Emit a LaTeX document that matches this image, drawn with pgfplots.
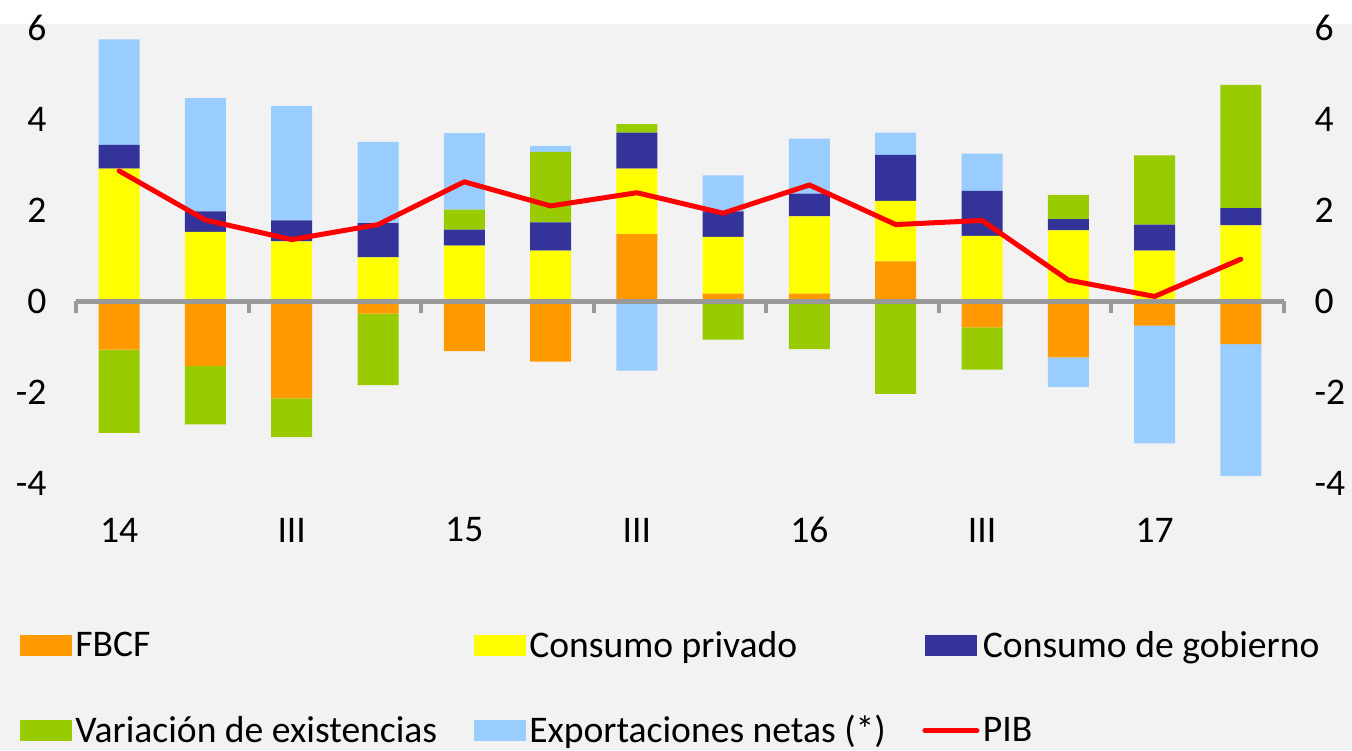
\documentclass[border=0pt]{standalone}
\usepackage{fontspec}
\setmainfont{Carlito}
\usepackage{pgfplots}
\usepackage{pgfplotstable}
\pgfplotsset{compat=1.18}
\definecolor{cFBCF}{HTML}{FF9900}
\definecolor{cCP}{HTML}{FFFF00}
\definecolor{cCG}{HTML}{333399}
\definecolor{cVE}{HTML}{99CC00}
\definecolor{cEN}{HTML}{99CCFF}
\definecolor{cPIB}{HTML}{FF0000}
\definecolor{bgc}{HTML}{F2F2F2}
\definecolor{axgray}{HTML}{999999}

\pgfplotstableread{
x FBCF CP CG VE EN PIB
0 -1.07 2.91 0.52 -1.83 2.32 2.86
1 -1.43 1.52 0.45 -1.28 2.49 1.78
2 -2.14 1.31 0.46 -0.85 2.52 1.35
3 -0.28 0.96 0.75 -1.57 1.79 1.68
4 -1.10 1.22 0.35 0.44 1.68 2.62
5 -1.33 1.11 0.62 1.55 0.13 2.09
6 1.47 1.44 0.79 0.19 -1.53 2.38
7 0.16 1.25 0.56 -0.85 0.79 1.93
8 0.16 1.70 0.50 -1.06 1.21 2.55
9 0.87 1.33 1.01 -2.04 0.49 1.68
10 -0.58 1.43 0.99 -0.93 0.82 1.77
11 -1.24 1.55 0.25 0.53 -0.65 0.46
12 -0.54 1.11 0.57 1.52 -2.59 0.10
13 -0.95 1.66 0.38 2.71 -2.90 0.92
}\datatable

\pgfplotsset{
  base/.style={
    scale only axis, width=604pt, height=227.5pt,
    xmin=-0.5, xmax=13.5, ymin=-4, ymax=6,
    ytick={-4,-2,0,2,4,6},
    yticklabels={-4,-2,0,2,4,6},
    every tick label/.append style={font=\fontsize{18.8}{22}\selectfont},
  },
  barlegend/.style={legend image code/.code={\fill[##1] (0pt,-5.25pt) rectangle (26pt,5.25pt);}},
}

\begin{document}
\begin{tikzpicture}
\fill[white] (-38pt,-133.5pt) rectangle (638pt,241.5pt);
\fill[bgc] (-38pt,-133.5pt) rectangle (638pt,229.5pt);

% negative parts
\begin{axis}[base, ybar stacked, bar width=20.5pt,
  hide x axis, axis y line*=right, y axis line style={draw=none},
  ytick style={draw=none}, yticklabel style={xshift=11.8pt}]
\addplot[fill=cFBCF, draw=none] table[x=x, y expr={min(\thisrow{FBCF},0)}] {\datatable};
\addplot[fill=cCP, draw=none] table[x=x, y expr={min(\thisrow{CP},0)}] {\datatable};
\addplot[fill=cCG, draw=none] table[x=x, y expr={min(\thisrow{CG},0)}] {\datatable};
\addplot[fill=cVE, draw=none] table[x=x, y expr={min(\thisrow{VE},0)}] {\datatable};
\addplot[fill=cEN, draw=none] table[x=x, y expr={min(\thisrow{EN},0)}] {\datatable};
\end{axis}

% positive parts + legend
\begin{axis}[base, ybar stacked, bar width=20.5pt, hide axis,
  legend columns=3,
  legend style={draw=none, fill=none, at={(-0.0464,-0.317)}, anchor=north west,
    inner sep=0pt, outer sep=0pt, column sep=0pt, row sep=23.5pt,
    nodes={inner xsep=1.75pt},
    /tikz/every even column/.append style={column sep=16.5pt},
    font=\fontsize{18.8}{22}\selectfont, legend cell align=left}]
\addplot[fill=cFBCF, draw=none, barlegend] table[x=x, y expr={max(\thisrow{FBCF},0)}] {\datatable};
\addlegendentry{FBCF}
\addplot[fill=cCP, draw=none, barlegend] table[x=x, y expr={max(\thisrow{CP},0)}] {\datatable};
\addlegendentry{Consumo privado}
\addplot[fill=cCG, draw=none, barlegend] table[x=x, y expr={max(\thisrow{CG},0)}] {\datatable};
\addlegendentry{Consumo de gobierno}
\addplot[fill=cVE, draw=none, barlegend] table[x=x, y expr={max(\thisrow{VE},0)}] {\datatable};
\addlegendentry{Variación de existencias}
\addplot[fill=cEN, draw=none, barlegend] table[x=x, y expr={max(\thisrow{EN},0)}] {\datatable};
\addlegendentry{Exportaciones netas (*)}
\addlegendimage{legend image code/.code={\draw[cPIB, line width=2.5pt, line cap=round] (0pt,0pt) -- (26pt,0pt);}}
\addlegendentry{PIB}
\end{axis}

% PIB line + decorations
\begin{axis}[base,
  axis x line*=middle, axis y line*=left,
  y axis line style={draw=none}, ytick style={draw=none},
  yticklabel style={xshift=-11.3pt},
  x axis line style={line width=2.5pt, color=axgray},
  xtick={0,2,...,12}, xticklabels={14,III,15,III,16,III,17},
  major tick length=0pt,
  minor xtick={-0.5,1.5,...,13.5}, minor tick length=6pt,
  minor x tick style={line width=2pt, color=axgray},
  xtick align=outside,
  xticklabel style={anchor=center, yshift=-114.5pt}]
\addplot[cPIB, line width=2.5pt, line join=round, line cap=round, mark=none] table[x=x, y=PIB] {\datatable};
\end{axis}

\pgfresetboundingbox
\useasboundingbox (-38pt,-133.5pt) rectangle (638pt,241.5pt);
\end{tikzpicture}
\end{document}
